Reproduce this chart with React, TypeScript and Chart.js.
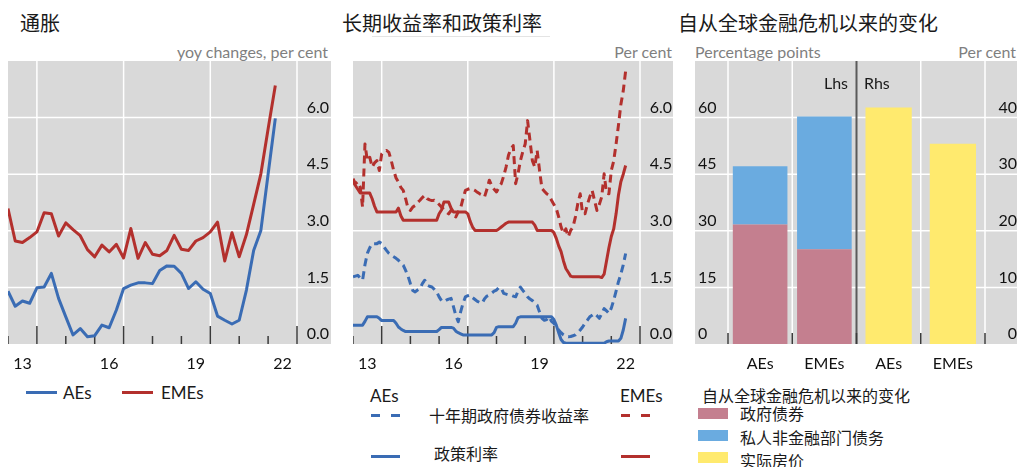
import React, { useEffect, useRef } from 'react';
import { Chart, registerables } from 'chart.js';

Chart.register(...registerables);

const LATIN = 'Lato, "Noto Sans", sans-serif';
const CJK = '"Noto Sans CJK SC", "Noto Sans", sans-serif';
const GRAY = '#d9d9d9';
const RED = '#b3302d';
const BLUE = '#3a6cb4';
const TICK_COLOR = '#111111';
const UNIT_COLOR = '#7f7f7f';

// ---------- Panel 1: inflation (quarterly, 2013Q1 - 2022Q2) ----------
const INFL_AES = [1.40, 1.00, 1.14, 1.08, 1.49, 1.51, 1.87, 1.21, 0.72, 0.24, 0.41, 0.19, 0.22, 0.50, 0.43, 0.90, 1.47, 1.56, 1.62, 1.62, 1.60, 1.95, 2.07, 2.06, 1.87, 1.47, 1.65, 1.45, 1.34, 0.74, 0.63, 0.53, 0.63, 1.43, 2.48, 3.01, 4.50, 5.98];
const INFL_EMES = [3.59, 2.73, 2.69, 2.82, 2.97, 3.48, 3.45, 2.86, 3.21, 3.03, 2.87, 2.50, 2.31, 2.62, 2.44, 2.64, 2.28, 3.06, 2.27, 2.69, 2.38, 2.34, 2.48, 2.88, 2.51, 2.48, 2.73, 2.82, 2.97, 3.23, 2.20, 2.95, 2.31, 2.90, 3.70, 4.51, 5.70, 6.85];

// ---------- Panel 2: yields and policy rates (monthly, 2013-01 - 2022-07) ----------
const YIELD_AES = [1.78, 1.80, 1.82, 1.75, 1.69, 2.10, 2.40, 2.55, 2.66, 2.66, 2.66, 2.70, 2.66, 2.57, 2.48, 2.40, 2.35, 2.31, 2.27, 2.22, 2.15, 2.09, 1.95, 1.80, 1.60, 1.42, 1.38, 1.43, 1.47, 1.60, 1.69, 1.56, 1.53, 1.51, 1.45, 1.38, 1.25, 1.15, 1.12, 1.16, 1.19, 1.21, 0.99, 0.75, 0.59, 0.85, 1.08, 1.25, 1.28, 1.30, 1.23, 1.18, 1.13, 1.10, 1.08, 1.20, 1.27, 1.30, 1.35, 1.40, 1.43, 1.50, 1.48, 1.34, 1.32, 1.30, 1.30, 1.27, 1.25, 1.40, 1.51, 1.42, 1.34, 1.25, 1.19, 1.15, 1.08, 1.03, 0.85, 0.68, 0.63, 0.65, 0.72, 0.60, 0.55, 0.45, 0.37, 0.30, 0.24, 0.21, 0.19, 0.20, 0.22, 0.24, 0.30, 0.37, 0.45, 0.55, 0.63, 0.72, 0.76, 0.81, 0.75, 0.68, 0.80, 0.94, 0.88, 0.81, 0.95, 1.16, 1.40, 1.65, 1.85, 2.10, 2.40];
const YIELD_EMES = [4.38, 4.25, 4.30, 4.16, 3.63, 5.30, 4.86, 4.95, 4.69, 4.80, 4.86, 4.60, 5.04, 5.10, 5.13, 5.08, 4.86, 4.60, 4.40, 4.29, 4.15, 4.07, 3.85, 3.60, 3.54, 3.63, 3.67, 3.75, 3.81, 3.88, 3.94, 3.85, 3.82, 3.80, 3.81, 3.76, 3.70, 3.63, 3.56, 3.50, 3.45, 3.54, 3.40, 3.37, 3.50, 3.60, 3.85, 4.07, 4.10, 4.12, 4.10, 4.07, 4.02, 3.98, 3.95, 3.90, 4.10, 4.34, 4.20, 4.10, 4.03, 4.15, 4.25, 4.45, 4.69, 5.00, 5.17, 5.26, 4.25, 4.51, 4.86, 5.10, 5.30, 5.92, 5.39, 4.86, 4.69, 5.13, 4.60, 4.12, 4.05, 3.98, 3.94, 3.81, 3.70, 3.59, 3.37, 3.10, 2.93, 3.05, 2.84, 3.01, 3.10, 3.37, 3.72, 3.98, 3.45, 3.45, 3.70, 3.90, 4.07, 3.80, 3.54, 3.70, 3.90, 4.51, 4.00, 3.98, 4.60, 4.85, 5.30, 5.80, 6.35, 6.71, 7.24];
const POLICY_AES = [0.50, 0.50, 0.50, 0.50, 0.50, 0.60, 0.72, 0.72, 0.72, 0.72, 0.72, 0.68, 0.62, 0.62, 0.62, 0.62, 0.62, 0.62, 0.55, 0.45, 0.40, 0.36, 0.33, 0.33, 0.33, 0.33, 0.33, 0.33, 0.33, 0.33, 0.33, 0.33, 0.33, 0.33, 0.33, 0.33, 0.38, 0.44, 0.44, 0.44, 0.44, 0.44, 0.42, 0.34, 0.30, 0.27, 0.24, 0.24, 0.24, 0.24, 0.24, 0.24, 0.24, 0.24, 0.24, 0.24, 0.24, 0.24, 0.24, 0.30, 0.44, 0.46, 0.46, 0.46, 0.46, 0.46, 0.46, 0.46, 0.55, 0.70, 0.72, 0.72, 0.72, 0.72, 0.72, 0.72, 0.72, 0.72, 0.72, 0.72, 0.72, 0.72, 0.72, 0.72, 0.65, 0.50, 0.30, 0.12, 0.04, 0.02, 0.02, 0.02, 0.02, 0.02, 0.02, 0.02, 0.02, 0.02, 0.02, 0.02, 0.02, 0.02, 0.02, 0.02, 0.02, 0.02, 0.06, 0.08, 0.08, 0.08, 0.08, 0.08, 0.15, 0.37, 0.68];
const POLICY_EMES = [4.30, 4.20, 4.10, 4.00, 4.00, 4.00, 4.00, 4.00, 3.85, 3.65, 3.50, 3.50, 3.50, 3.50, 3.50, 3.50, 3.50, 3.50, 3.50, 3.60, 3.40, 3.28, 3.28, 3.28, 3.28, 3.28, 3.28, 3.28, 3.28, 3.28, 3.28, 3.28, 3.28, 3.28, 3.28, 3.28, 3.45, 3.55, 3.76, 3.76, 3.76, 3.60, 3.50, 3.50, 3.50, 3.50, 3.50, 3.50, 3.45, 3.25, 3.10, 3.01, 3.01, 3.01, 3.01, 3.01, 3.01, 3.01, 3.01, 3.01, 3.01, 3.05, 3.10, 3.15, 3.20, 3.23, 3.23, 3.23, 3.23, 3.23, 3.23, 3.23, 3.23, 3.23, 3.23, 3.23, 3.15, 3.01, 3.01, 3.01, 3.01, 3.01, 3.01, 3.01, 2.95, 2.80, 2.60, 2.45, 2.20, 2.00, 1.90, 1.80, 1.78, 1.78, 1.78, 1.78, 1.78, 1.78, 1.78, 1.78, 1.78, 1.78, 1.78, 1.78, 1.76, 1.85, 2.20, 2.55, 2.85, 3.05, 3.45, 3.95, 4.30, 4.50, 4.73];

// ---------- Shared time axis ----------
const START_YEAR = 2013;
const X_MIN = 2013;
const X_MAX = 2023;
const YEAR_TICKS = [2013, 2014, 2015, 2016, 2017, 2018, 2019, 2020, 2021, 2022, 2023];
const MAJOR_YEARS = [2014, 2017, 2020, 2023];
const LABEL_YEARS = [2013, 2016, 2019, 2022];
const Y_TICKS = [0, 1.5, 3, 4.5, 6];
const Y_MAX = 7.5;

// ---------- Panel 3: changes since the GFC ----------
const BAR_CATS = ['AEs', 'EMEs', 'AEs', 'EMEs'];
const GOV_DEBT = [31.7, 25.1, null, null];
const PRIV_DEBT = [15.4, 35.2, null, null];
const HOUSE_PRICES = [null, null, 41.8, 35.4];
const L_TICKS = [0, 15, 30, 45, 60];
const R_TICKS = [0, 10, 20, 30, 40];
const L_MAX = 75;
const R_MAX = 50;

type VLine = { x: number; color: string; width: number };
type ITick = { x: number; len: number };

function decor(yId: string, vlines: (c: any) => VLine[], ticks: (c: any) => ITick[]) {
  return {
    id: 'decor',
    beforeDraw(chart: any) {
      const { ctx, chartArea, width } = chart;
      const ys = chart.scales[yId];
      ctx.save();
      ctx.fillStyle = GRAY;
      ctx.fillRect(0, chartArea.top, width, chartArea.bottom - chartArea.top);
      ctx.strokeStyle = '#ffffff';
      ctx.lineWidth = 1.5;
      ys.ticks.forEach((t: any) => {
        if (t.value === 0) return;
        const y = ys.getPixelForValue(t.value);
        ctx.beginPath();
        ctx.moveTo(0, y);
        ctx.lineTo(width, y);
        ctx.stroke();
      });
      vlines(chart).forEach((l) => {
        ctx.strokeStyle = l.color;
        ctx.lineWidth = l.width;
        ctx.beginPath();
        ctx.moveTo(l.x, chartArea.top);
        ctx.lineTo(l.x, chartArea.bottom);
        ctx.stroke();
      });
      ctx.strokeStyle = '#3a3a3a';
      ctx.lineWidth = 1.5;
      ticks(chart).forEach((t) => {
        ctx.beginPath();
        ctx.moveTo(t.x, chartArea.bottom - t.len);
        ctx.lineTo(t.x, chartArea.bottom);
        ctx.stroke();
      });
      ctx.restore();
    },
  };
}

function series(values: number[], perYear: number) {
  return values.map((v, i) => ({ x: START_YEAR + i / perYear, y: v }));
}

function lineConfig(datasets: any[], padRight: number, yWidth: number) {
  return {
    type: 'line' as const,
    data: { datasets },
    options: {
      responsive: false,
      animation: false as const,
      events: [],
      layout: { padding: { left: 0, right: padRight, top: 0, bottom: 0 } },
      plugins: { legend: { display: false }, tooltip: { enabled: false } },
      elements: { point: { radius: 0 }, line: { tension: 0, borderJoinStyle: 'round' as const } },
      scales: {
        x: {
          type: 'linear' as const,
          min: X_MIN,
          max: X_MAX,
          afterBuildTicks: (s: any) => {
            s.ticks = LABEL_YEARS.map((y) => ({ value: y + 0.5 }));
          },
          afterFit: (s: any) => {
            s.height = 36;
            s.paddingLeft = 0;
            s.paddingRight = 0;
          },
          grid: { display: false },
          border: { display: false },
          ticks: {
            autoSkip: false,
            maxRotation: 0,
            padding: 2,
            color: TICK_COLOR,
            font: { family: LATIN, size: 16 },
            callback: (v: any) => String(Math.floor(Number(v))).slice(2),
          },
        },
        y: {
          position: 'right' as const,
          min: 0,
          max: Y_MAX,
          afterBuildTicks: (s: any) => {
            s.ticks = Y_TICKS.map((v) => ({ value: v }));
          },
          afterFit: (s: any) => {
            s.width = yWidth;
            s.paddingTop = 0;
            s.paddingBottom = 0;
          },
          grid: { display: false },
          border: { display: false },
          ticks: {
            crossAlign: 'far' as const,
            labelOffset: -10,
            padding: 0,
            color: TICK_COLOR,
            font: { family: LATIN, size: 16 },
            callback: (v: any) => Number(v).toFixed(1),
          },
        },
      },
    },
    plugins: [
      decor(
        'y',
        (c) => MAJOR_YEARS.map((yr) => ({ x: c.scales.x.getPixelForValue(yr), color: '#ffffff', width: 1.5 })),
        (c) => YEAR_TICKS.map((yr) => ({ x: c.scales.x.getPixelForValue(yr), len: MAJOR_YEARS.includes(yr) ? 18 : 8 }))
      ),
    ],
  };
}

function lineDs(values: number[], perYear: number, color: string, dashed: boolean) {
  return {
    data: series(values, perYear),
    borderColor: color,
    borderWidth: 3,
    borderDash: dashed ? [8, 5] : [],
    fill: false,
  };
}

function boundaries(c: any) {
  const x = c.scales.x;
  const w = x.getPixelForValue(1) - x.getPixelForValue(0);
  const first = x.getPixelForValue(0) - w / 2;
  return [0, 1, 2, 3, 4].map((i) => first + i * w);
}

const Text = (p: { x?: number; right?: number; y: number; size?: number; font?: string; color?: string; children: React.ReactNode }) => (
  <div
    style={{
      position: 'absolute',
      left: p.right === undefined ? p.x : undefined,
      right: p.right !== undefined ? 1017 - p.right : undefined,
      top: p.y,
      transform: 'translateY(-50%)',
      fontSize: p.size ?? 16,
      fontFamily: p.font ?? LATIN,
      color: p.color ?? '#1a1a1a',
      lineHeight: 1,
      whiteSpace: 'nowrap',
    }}
  >
    {p.children}
  </div>
);

const Bar = (p: { x: number; y: number; w: number; h: number; color: string }) => (
  <div style={{ position: 'absolute', left: p.x, top: p.y, width: p.w, height: p.h, background: p.color }} />
);

export default function App() {
  const r1 = useRef<HTMLCanvasElement>(null);
  const r2 = useRef<HTMLCanvasElement>(null);
  const r3 = useRef<HTMLCanvasElement>(null);

  useEffect(() => {
    const charts: Chart[] = [];
    charts.push(
      new Chart(
        r1.current as HTMLCanvasElement,
        lineConfig([lineDs(INFL_EMES, 4, RED, false), lineDs(INFL_AES, 4, BLUE, false)], 2, 32) as any
      )
    );
    charts.push(
      new Chart(
        r2.current as HTMLCanvasElement,
        lineConfig(
          [
            lineDs(YIELD_EMES, 12, RED, true),
            lineDs(POLICY_EMES, 12, RED, false),
            lineDs(YIELD_AES, 12, BLUE, true),
            lineDs(POLICY_AES, 12, BLUE, false),
          ],
          1,
          32
        ) as any
      )
    );
    charts.push(
      new Chart(r3.current as HTMLCanvasElement, {
        type: 'bar',
        data: {
          labels: BAR_CATS,
          datasets: [
            { data: GOV_DEBT, backgroundColor: '#c47f8f', yAxisID: 'yL', grouped: false, categoryPercentage: 1, barPercentage: 0.85 },
            { data: PRIV_DEBT, backgroundColor: '#6aabe0', yAxisID: 'yL', grouped: false, categoryPercentage: 1, barPercentage: 0.85 },
            { data: HOUSE_PRICES, backgroundColor: '#ffea6e', yAxisID: 'yR', grouped: false, categoryPercentage: 1, barPercentage: 0.72 },
          ] as any,
        },
        options: {
          responsive: false,
          animation: false,
          events: [],
          layout: { padding: { left: 3, right: 0, top: 0, bottom: 0 } },
          plugins: { legend: { display: false }, tooltip: { enabled: false } },
          scales: {
            x: {
              stacked: true,
              offset: true,
              afterFit: (s: any) => {
                s.height = 36;
                s.paddingLeft = 0;
                s.paddingRight = 0;
              },
              grid: { display: false },
              border: { display: false },
              ticks: { padding: 2, color: TICK_COLOR, font: { family: LATIN, size: 16 }, autoSkip: false, maxRotation: 0 },
            },
            yL: {
              position: 'left',
              stacked: true,
              min: 0,
              max: L_MAX,
              afterBuildTicks: (s: any) => {
                s.ticks = L_TICKS.map((v) => ({ value: v }));
              },
              afterFit: (s: any) => {
                s.width = 30;
                s.paddingTop = 0;
                s.paddingBottom = 0;
              },
              grid: { display: false },
              border: { display: false },
              ticks: { crossAlign: 'far', labelOffset: -10, padding: 0, color: TICK_COLOR, font: { family: LATIN, size: 16 } },
            },
            yR: {
              position: 'right',
              min: 0,
              max: R_MAX,
              afterBuildTicks: (s: any) => {
                s.ticks = R_TICKS.map((v) => ({ value: v }));
              },
              afterFit: (s: any) => {
                s.width = 32;
                s.paddingTop = 0;
                s.paddingBottom = 0;
              },
              grid: { display: false },
              border: { display: false },
              ticks: { crossAlign: 'far', labelOffset: -10, padding: 0, color: TICK_COLOR, font: { family: LATIN, size: 16 } },
            },
          },
        } as any,
        plugins: [
          decor(
            'yL',
            (c) => boundaries(c).map((x, i) => (i === 2 ? { x, color: '#5a5a5a', width: 2 } : { x, color: '#ffffff', width: 1.5 })),
            (c) => boundaries(c).map((x) => ({ x, len: 11 }))
          ),
        ],
      } as any)
    );
    return () => charts.forEach((c) => c.destroy());
  }, []);

  return (
    <div style={{ position: 'fixed', left: 0, top: 0, width: 1017, height: 467, background: '#fff', overflow: 'hidden' }}>
      {/* titles */}
      <Text x={20} y={23} size={20} font={CJK}>通胀</Text>
      <Text x={342} y={23} size={20} font={CJK}>长期收益率和政策利率</Text>
      <div style={{ position: 'absolute', left: 372, top: 36, width: 178, height: 1, background: '#e4e4e4' }} />
      <Text x={678} y={23} size={20} font={CJK}>自从全球金融危机以来的变化</Text>

      {/* units */}
      <Text right={328} y={52} color={UNIT_COLOR}>yoy changes, per cent</Text>
      <Text right={672} y={52} color={UNIT_COLOR}>Per cent</Text>
      <Text x={695} y={52} color={UNIT_COLOR}>Percentage points</Text>
      <Text right={1016} y={52} color={UNIT_COLOR}>Per cent</Text>

      {/* charts */}
      <canvas ref={r1} width={323} height={319} style={{ position: 'absolute', left: 8, top: 61 }} />
      <canvas ref={r2} width={320} height={319} style={{ position: 'absolute', left: 353, top: 61 }} />
      <canvas ref={r3} width={322} height={319} style={{ position: 'absolute', left: 695, top: 61 }} />

      <Text right={848} y={83}>Lhs</Text>
      <Text x={864} y={83}>Rhs</Text>

      {/* legend panel 1 */}
      <Bar x={26} y={391} w={31} h={3} color={BLUE} />
      <Text x={63} y={392} size={17}>AEs</Text>
      <Bar x={122} y={391} w={31} h={3} color={RED} />
      <Text x={161} y={392} size={17}>EMEs</Text>

      {/* legend panel 2 */}
      <Text x={370} y={395} size={17}>AEs</Text>
      <Text x={620} y={395} size={17}>EMEs</Text>
      <Bar x={371} y={414} w={9} h={3} color={BLUE} />
      <Bar x={391} y={414} w={9} h={3} color={BLUE} />
      <Text x={429} y={415} font={CJK}>十年期政府债券收益率</Text>
      <Bar x={621} y={414} w={9} h={3} color={RED} />
      <Bar x={641} y={414} w={9} h={3} color={RED} />
      <Bar x={371} y={455} w={29} h={3} color={BLUE} />
      <Text x={434} y={453} font={CJK}>政策利率</Text>
      <Bar x={621} y={455} w={29} h={3} color={RED} />

      {/* legend panel 3 */}
      <Text x={702} y={395} font={CJK}>自从全球金融危机以来的变化</Text>
      <Bar x={698} y={408} w={30} h={11} color="#c47f8f" />
      <Text x={740} y={413} font={CJK}>政府债券</Text>
      <Bar x={698} y={430} w={30} h={11} color="#6aabe0" />
      <Text x={740} y={437} font={CJK}>私人非金融部门债务</Text>
      <Bar x={698} y={452} w={30} h={11} color="#ffea6e" />
      <Text x={740} y={460} font={CJK}>实际房价</Text>
    </div>
  );
}
